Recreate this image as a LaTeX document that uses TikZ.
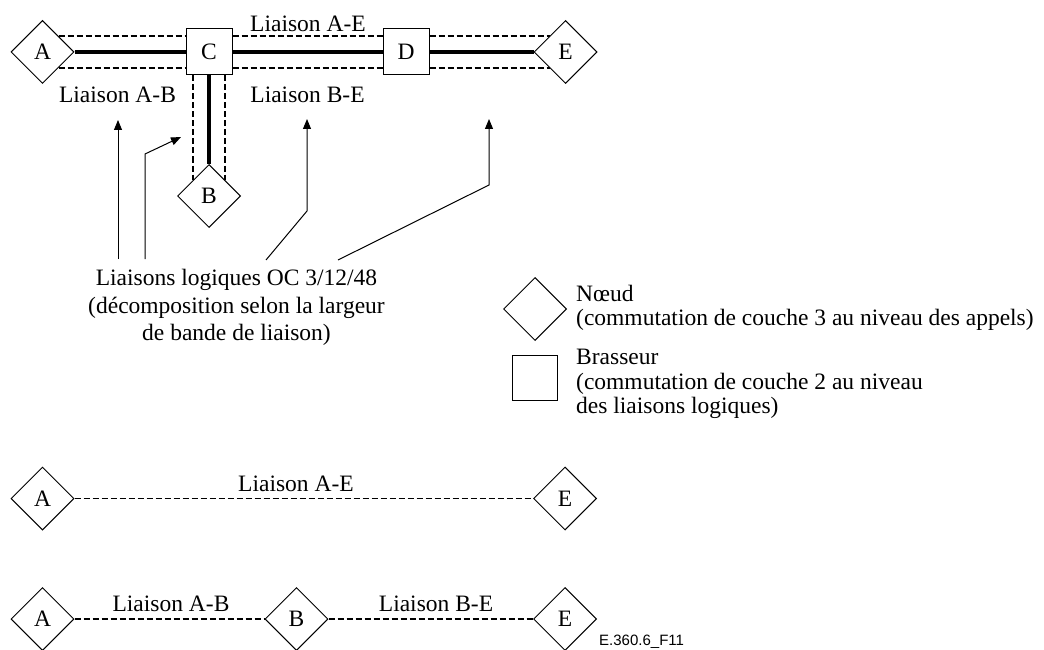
\documentclass[tikz,border=0pt]{standalone}
\usepackage{fontspec}
\setmainfont{Liberation Serif}
\newfontfamily\tagfont{Liberation Sans}
\usetikzlibrary{shapes.geometric,arrows.meta,calc}
\begin{document}
\begin{tikzpicture}[x=1pt,y=-1pt,
  every node/.style={font=\fontsize{23.5}{27}\selectfont},
  nd/.style={draw, shape=diamond, minimum width=63pt, minimum height=63pt, inner sep=0pt, line width=1pt},
  xc/.style={draw, rectangle, minimum size=46pt, inner sep=0pt, line width=1pt},
  trunk/.style={line width=4.5pt},
  lnk/.style={line width=1.3pt, dash pattern=on 6pt off 3pt},
  ptr/.style={line width=1pt, -{Triangle[length=10pt,width=8pt]}},
  lbl/.style={anchor=base, inner sep=0pt},
  lgd/.style={anchor=base west, inner sep=0pt}
]
\useasboundingbox (0,0) rectangle (1044,650);

% --- physical network: nodes A, B, E and cross-connects C, D
\node[nd] (A) at (42.5,52) {A};
\node[xc] (C) at (209,52) {C};
\node[xc] (D) at (406,52) {D};
\node[nd] (E) at (565.5,52) {E};
\node[nd] (B) at (209,196) {B};

% thick transmission trunks
\draw[trunk] (A) -- (C);
\draw[trunk] (C) -- (D);
\draw[trunk] (D) -- (E);
\draw[trunk] (C) -- (B);

% logical links running alongside the trunks
\draw[lnk] (A.north east) -- (A.north east -| C.west);
\draw[lnk] (A.south east) -- (A.south east -| C.west);
\draw[lnk] (C.east |- A.north east) -- (D.west |- A.north east);
\draw[lnk] (C.east |- A.south east) -- (D.west |- A.south east);
\draw[lnk] (D.east |- E.north west) -- (E.north west);
\draw[lnk] (D.east |- E.south west) -- (E.south west);
\draw[lnk] (C.south -| B.north west) -- (B.north west);
\draw[lnk] (C.south -| B.north east) -- (B.north east);

\node[lbl] (lAE) at (308,32) {Liaison A-E};
\node[lbl] (lAB) at (117.5,103) {Liaison A-B};
\node[lbl] (lBE) at (307.5,103) {Liaison B-E};

% explanation text and its pointers
\node[lbl] (t1) at (236.5,285) {Liaisons logiques OC 3/12/48};
\node[lbl] (t2) at (236.5,313) {(décomposition selon la largeur};
\node[lbl] (t3) at (236.5,340) {de bande de liaison)};

\coordinate (s1) at (118,259);
\coordinate (h1) at (118,120);
\coordinate (s2) at (145,259);
\coordinate (k2) at (145,154);
\coordinate (h2) at (181,137);
\coordinate (s3) at (266,260);
\coordinate (k3) at (307,211);
\coordinate (h3) at (307,119);
\coordinate (s4) at (338,260);
\coordinate (k4) at (489,185);
\coordinate (h4) at (489,119);
\draw[ptr] (s1) -- (h1);
\draw[ptr] (s2) -- (k2) -- (h2);
\draw[ptr] (s3) -- (k3) -- (h3);
\draw[ptr] (s4) -- (k4) -- (h4);

% legend
\node[nd] (kn) at (535,309) {};
\node[xc, minimum size=45pt] (kx) at (534.5,377.5) {};
\node[lgd] (k1) at (576,301) {Nœud};
\node[lgd] (k2t) at (576,325) {(commutation de couche 3 au niveau des appels)};
\node[lgd] (k3t) at (576,364) {Brasseur};
\node[lgd] (k4t) at (576,389) {(commutation de couche 2 au niveau};
\node[lgd] (k5t) at (576,413) {des liaisons logiques)};

% logical view: one direct link A-E
\node[nd] (A1) at (42.5,498.5) {A};
\node[nd] (E1) at (565,498.5) {E};
\draw[lnk] (A1) -- (E1);
\node[lbl] (m1) at (296,491) {Liaison A-E};

% logical view: links A-B and B-E
\node[nd] (A2) at (42.5,619) {A};
\node[nd] (B2) at (296.5,619) {B};
\node[nd] (E2) at (565,619) {E};
\draw[lnk] (A2) -- (B2);
\draw[lnk] (B2) -- (E2);
\node[lbl] (m2) at (171,611) {Liaison A-B};
\node[lbl] (m3) at (436,611) {Liaison B-E};

\node[lgd, font=\tagfont\fontsize{15}{18}\selectfont] (tag) at (599,645) {E.360.6\_F11};
\end{tikzpicture}
\end{document}
